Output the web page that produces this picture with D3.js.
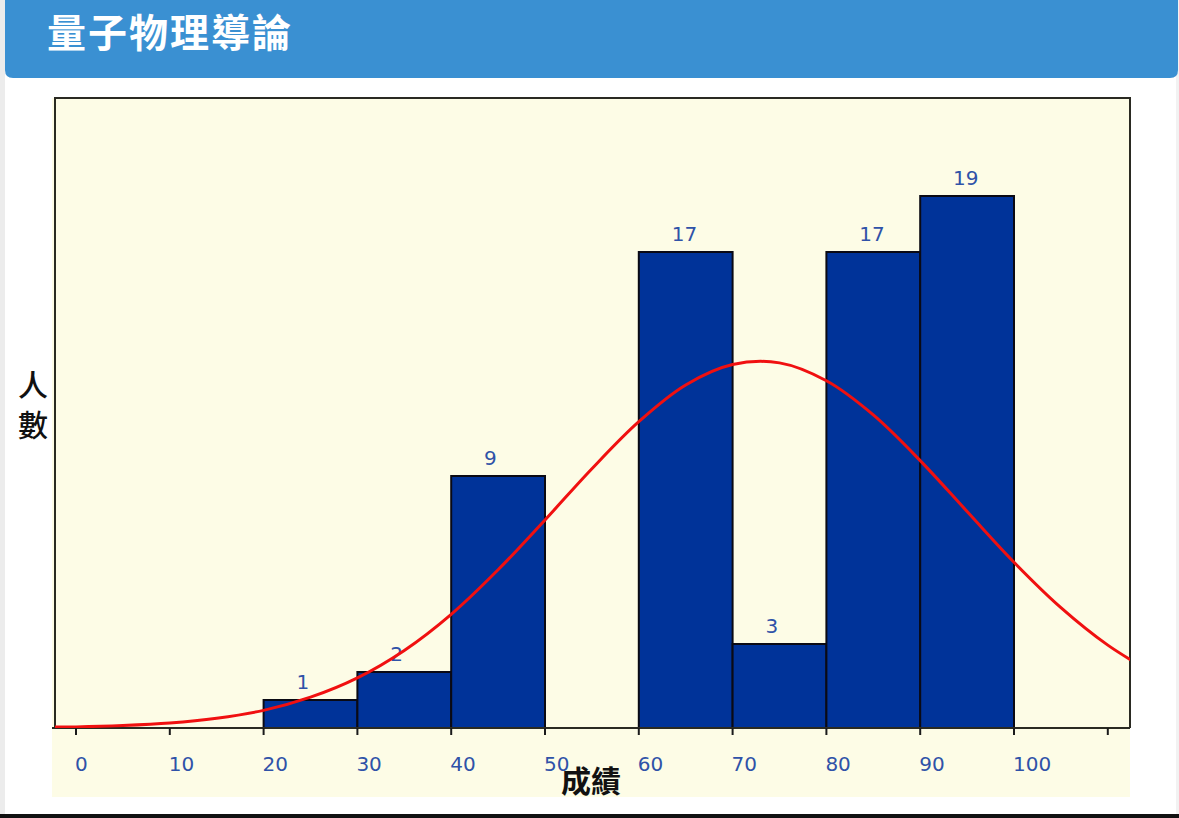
<!DOCTYPE html>
<html>
<head>
<meta charset="utf-8">
<script src="https://cdn.jsdelivr.net/npm/d3@7"></script>
<style>
  html, body { margin: 0; padding: 0; background: #fff; }
  body { width: 1179px; height: 818px; overflow: hidden; }
</style>
</head>
<body>
<div id="chart"></div>
<script>
// 成績分布 (每 10 分一組)
const binStart = [20, 30, 40, 50, 60, 70, 80, 90]
const binCount = [1, 2, 9, 0, 17, 3, 17, 19]
const tickValues = [0, 10, 20, 30, 40, 50, 60, 70, 80, 90, 100, 110]
const tickLabels = ['0', '10', '20', '30', '40', '50', '60', '70', '80', '90', '100', '']
// red fitted curve
const curveX = [-3, 0, 5, 10, 15, 20, 25, 30, 35, 40, 45, 50, 55, 60, 65, 70, 75, 80, 85, 90, 95, 100, 105, 110, 115]
const curveY = [0.03, 0.04, 0.09, 0.18, 0.35, 0.63, 1.1, 1.79, 2.77, 4.06, 5.65, 7.43, 9.26, 10.94, 12.25, 12.98, 13.04, 12.4, 11.18, 9.55, 7.73, 5.92, 4.3, 2.96, 1.93]

const W = 1179, H = 818
const plot = { left: 55, right: 1130, top: 98, bottom: 728 }

const svg = d3.select('#chart').append('svg')
  .attr('width', W)
  .attr('height', H)

// page frame
svg.append('rect').attr('x', 0).attr('y', 0).attr('width', 5).attr('height', H).attr('fill', '#ececec')
svg.append('rect').attr('x', 1176).attr('y', 0).attr('width', 3).attr('height', H).attr('fill', '#f2f2f2')

// header
svg.append('path')
  .attr('d', `M5,0 H1178 V70 Q1178,78 1170,78 H13 Q5,78 5,70 Z`)
  .attr('fill', '#3a90d2')
svg.append('text')
  .attr('x', 47)
  .attr('y', 47)
  .attr('fill', '#fff')
  .style('font-family', '"Noto Sans CJK TC", "Noto Sans CJK SC", sans-serif')
  .style('font-weight', 700)
  .style('font-size', '39px')
  .style('letter-spacing', '2px')
  .text('量子物理導論')

let x = d3.scaleLinear().domain([0, 100]).range([76, 1014])
let y = d3.scaleLinear().domain([0, 22.5]).range([plot.bottom, plot.top])

// plot background + band under axis
svg.append('rect')
  .attr('x', 52).attr('y', plot.top)
  .attr('width', plot.right - 52).attr('height', 797 - plot.top)
  .attr('fill', '#fdfce6')

let clip = svg.append('clipPath').attr('id', 'clip')
clip.append('rect')
  .attr('x', plot.left).attr('y', plot.top)
  .attr('width', plot.right - plot.left).attr('height', plot.bottom - plot.top)

// bars
let bars = binStart.map((s, i) => ({ x0: s, x1: s + 10, n: binCount[i] })).filter(d => d.n > 0)
svg.append('g')
  .selectAll('rect')
  .data(bars)
  .enter()
  .append('rect')
  .attr('x', d => x(d.x0))
  .attr('y', d => y(d.n))
  .attr('width', d => x(d.x1) - x(d.x0))
  .attr('height', d => y(0) - y(d.n))
  .attr('fill', '#003399')
  .attr('stroke', '#0a0a14')
  .attr('stroke-width', 2)

// bar labels
svg.append('g')
  .selectAll('text')
  .data(bars)
  .enter()
  .append('text')
  .attr('x', d => (x(d.x0) + x(d.x1)) / 2 - 14)
  .attr('y', d => y(d.n) - 11)
  .attr('fill', '#2f52a8')
  .style('font-family', '"DejaVu Sans", Verdana, sans-serif')
  .style('font-size', '20px')
  .text(d => d.n)

// frame
let frame = svg.append('g').attr('stroke', '#2a2a22').attr('stroke-width', 2).attr('fill', 'none')
frame.append('path').attr('d', `M${plot.left},${plot.bottom} V${plot.top} H${plot.right} V${plot.bottom}`)
frame.append('line')
  .attr('x1', 52).attr('x2', plot.right)
  .attr('y1', plot.bottom).attr('y2', plot.bottom)

// x axis ticks
svg.append('g')
  .selectAll('line')
  .data(tickValues)
  .enter()
  .append('line')
  .attr('x1', d => x(d)).attr('x2', d => x(d))
  .attr('y1', plot.bottom).attr('y2', plot.bottom + 7)
  .attr('stroke', '#1a1a1a')
  .attr('stroke-width', 2)

svg.append('g')
  .selectAll('text')
  .data(tickValues)
  .enter()
  .append('text')
  .attr('x', d => x(d) - 1)
  .attr('y', 771)
  .attr('fill', '#2f52a8')
  .style('font-family', '"DejaVu Sans", Verdana, sans-serif')
  .style('font-size', '20px')
  .text((d, i) => tickLabels[i])

// red curve
let line = d3.line()
  .x(d => x(d[0]))
  .y(d => y(d[1]))
  .curve(d3.curveCatmullRom)
svg.append('path')
  .datum(curveX.map((v, i) => [v, curveY[i]]))
  .attr('clip-path', 'url(#clip)')
  .attr('d', line)
  .attr('fill', 'none')
  .attr('stroke', '#f01010')
  .attr('stroke-width', 3)

// axis titles
svg.append('text')
  .attr('x', 591)
  .attr('y', 792)
  .attr('text-anchor', 'middle')
  .attr('fill', '#111')
  .style('font-family', '"Noto Sans CJK TC", sans-serif')
  .style('font-weight', 700)
  .style('font-size', '30px')
  .text('成績')

let yt = svg.append('text')
  .attr('fill', '#111')
  .attr('text-anchor', 'middle')
  .style('font-family', '"Noto Sans CJK TC", sans-serif')
  .style('font-weight', 500)
  .style('font-size', '30px')
yt.append('tspan').attr('x', 33).attr('y', 396).text('人')
yt.append('tspan').attr('x', 33).attr('y', 436).text('數')

// bottom rule
svg.append('rect').attr('x', 0).attr('y', 814).attr('width', W).attr('height', 4).attr('fill', '#111')
</script>
</body>
</html>
